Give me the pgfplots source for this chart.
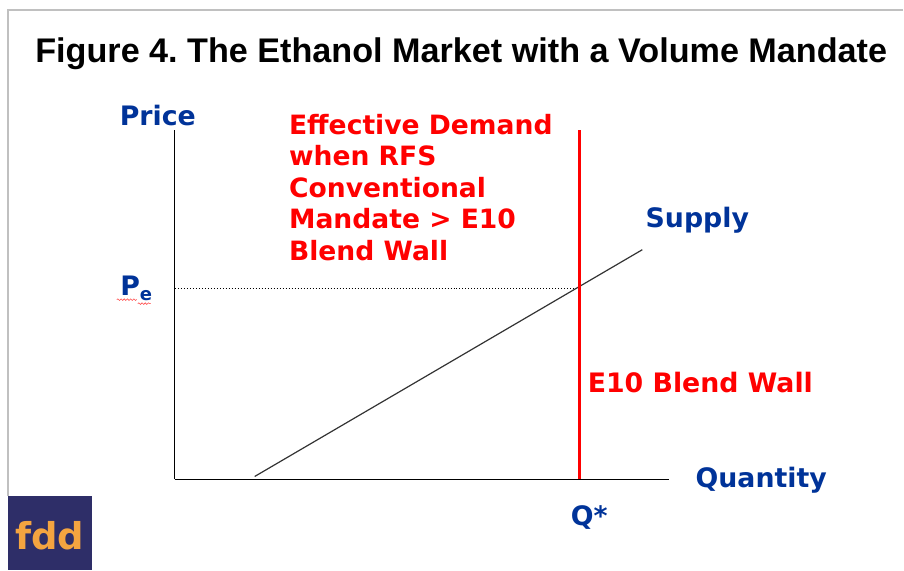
\documentclass[border=0pt]{standalone}
\usepackage{fontspec}
\setmainfont{Liberation Sans}
\newfontfamily\vfont{DejaVu Sans}
\usepackage{pgfplots}
\pgfplotsset{compat=1.18}
\usetikzlibrary{decorations.pathmorphing}
\definecolor{lblue}{RGB}{0,51,153}
\definecolor{logobg}{RGB}{46,46,104}
\definecolor{logotxt}{RGB}{244,164,64}
\definecolor{frame}{RGB}{192,192,192}
\frenchspacing

\begin{document}
\begin{tikzpicture}
% data coordinates are image pixels, y counted from the bottom edge (571 px high)
\begin{axis}[
    scale only axis,
    width=247.5pt, height=175pt,
    xmin=175, xmax=670, ymin=91, ymax=441,
    axis x line=bottom, axis y line=left,
    axis line style={-, black, line width=0.5pt},
    xtick=\empty, ytick=\empty,
    clip=false,
]
% page bounding box and frame
\path (axis cs:0,0) rectangle (axis cs:904,571);
\draw[frame, line width=1pt] (axis cs:904,561) -- (axis cs:8,561) -- (axis cs:8,74);

% price level Pe
\addplot[black, densely dotted, line width=0.5pt] coordinates {(175,282) (580,282)};
% supply curve
\addplot[black!80, line width=0.6pt] coordinates {(255,94) (643,321)};
% E10 blend wall
\addplot[red, line width=1.7pt] coordinates {(580,91) (580,441)};

\node[font=\bfseries\fontsize{17.1}{20}\selectfont, anchor=west, inner sep=0pt] at (axis cs:35,517) {Figure 4. The Ethanol Market with a Volume Mandate};

\node[font=\vfont\bfseries\fontsize{13.4}{16}\selectfont, text=lblue] at (axis cs:158,455) {Price};
\node[font=\vfont\bfseries\fontsize{13.4}{16}\selectfont, text=lblue, anchor=west, inner sep=0pt] at (axis cs:646,351) {Supply};
\node[font=\vfont\bfseries\fontsize{13.4}{16}\selectfont, text=lblue, anchor=west, inner sep=0pt] at (axis cs:696,90) {Quantity};
\node[font=\vfont\bfseries\fontsize{13.4}{16}\selectfont, text=lblue] at (axis cs:590,53) {Q*};
\node[font=\vfont\bfseries\fontsize{13.4}{16}\selectfont, text=lblue, anchor=west, inner sep=0pt] at (axis cs:120,282) {P\raisebox{-0.35ex}{\fontsize{9}{10}\selectfont e}};
\draw[red!70, line width=0.3pt, decorate, decoration={snake, amplitude=0.4pt, segment length=1.6pt}] (axis cs:117,271) -- (axis cs:137,271);
\draw[red!70, line width=0.3pt, decorate, decoration={snake, amplitude=0.4pt, segment length=1.6pt}] (axis cs:138,267) -- (axis cs:151,267);

\node[font=\vfont\bfseries\fontsize{13.3}{15.75}\selectfont, text=red, anchor=north west, align=left, inner sep=0pt] at (axis cs:289,457)
  {Effective Demand\\when RFS\\Conventional\\Mandate > E10\\Blend Wall};
\node[font=\vfont\bfseries\fontsize{13.4}{16}\selectfont, text=red, anchor=west, inner sep=0pt] at (axis cs:588,188) {E10 Blend Wall};

% logo
\fill[logobg] (axis cs:8,0) rectangle (axis cs:92,74);
\node[font=\vfont\bfseries\fontsize{18.5}{22}\selectfont, text=logotxt] at (axis cs:50,35) {fdd};
\end{axis}
\end{tikzpicture}
\end{document}
